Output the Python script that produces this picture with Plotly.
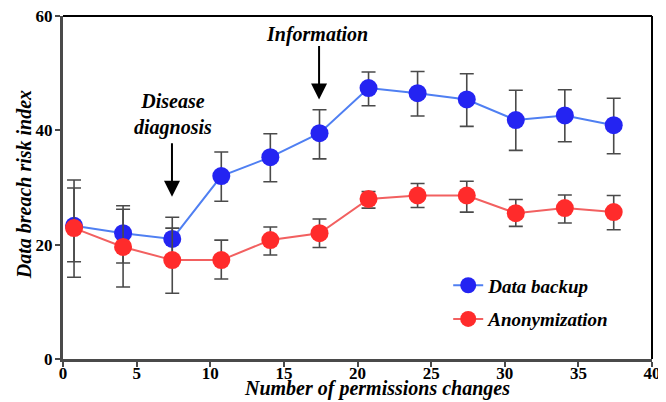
import plotly.graph_objects as go

# ---- data ----
x_changes = [0.75, 4.08, 7.42, 10.75, 14.08, 17.42, 20.75, 24.08, 27.42, 30.75, 34.08, 37.4]

backup = [23.3, 22.0, 21.0, 32.0, 35.3, 39.5, 47.4, 46.5, 45.4, 41.8, 42.6, 40.9]
backup_plus = [8.0, 4.8, 3.8, 4.2, 4.1, 4.1, 2.8, 3.8, 4.5, 5.2, 4.5, 4.7]
backup_minus = [6.3, 5.2, 3.8, 4.4, 4.3, 4.5, 3.1, 4.0, 4.7, 5.3, 4.6, 5.0]

anonym = [22.9, 19.6, 17.3, 17.3, 20.8, 22.0, 28.0, 28.6, 28.6, 25.5, 26.4, 25.7]
anonym_plus = [7.0, 6.6, 5.6, 3.5, 2.3, 2.5, 1.3, 2.1, 2.5, 2.4, 2.3, 2.9]
anonym_minus = [8.6, 7.0, 5.8, 3.3, 2.6, 2.5, 1.6, 2.1, 2.9, 2.3, 2.6, 3.1]

series_names = ["Data backup", "Anonymization"]
x_ticks = [0, 5, 10, 15, 20, 25, 30, 35, 40]
y_ticks = [0, 20, 40, 60]

FONT = "Liberation Serif"
ERR_COLOR = "#4a4a4a"

fig = go.Figure()

fig.add_trace(go.Scatter(
    x=x_changes, y=backup, name=series_names[0], mode="lines+markers",
    legendgroup="a",
    line=dict(color="#4f7ff2", width=2),
    marker=dict(color="#2424f2", size=18),
    error_y=dict(type="data", symmetric=False, array=backup_plus, arrayminus=backup_minus,
                 color=ERR_COLOR, thickness=1.6, width=7),
))
fig.add_trace(go.Scatter(
    x=x_changes, y=anonym, name=series_names[1], mode="lines+markers",
    legendgroup="b",
    line=dict(color="#f26060", width=2),
    marker=dict(color="#ff2b2b", size=18),
    error_y=dict(type="data", symmetric=False, array=anonym_plus, arrayminus=anonym_minus,
                 color=ERR_COLOR, thickness=1.6, width=7),
))

axis_common = dict(
    showgrid=False, zeroline=False, showline=True, linecolor="#4a4a4a", linewidth=3,
    ticks="outside", ticklen=5, tickwidth=2, tickcolor="#4a4a4a", automargin=False,
    ticklabeloverflow="allow",
    tickfont=dict(family=FONT, size=17, color="black", weight="bold"),
)

fig.update_xaxes(range=[0, 40], tickvals=x_ticks, ticklabelstandoff=-8, **axis_common)
fig.update_yaxes(range=[0, 60], tickvals=y_ticks, ticklabelstandoff=-1, **axis_common)

title_font = dict(family=FONT, size=20, color="black", weight="bold", style="italic")

annotations = [
    dict(text="Number of permissions changes", xref="paper", yref="paper",
         x=0.533, y=-0.085, xanchor="center", yanchor="middle", showarrow=False,
         font=title_font),
    dict(text="Data breach risk index", xref="paper", yref="paper",
         x=-0.066, y=0.507, xanchor="center", yanchor="middle", showarrow=False,
         textangle=-90, font=title_font),
    dict(text="Information", x=17.25, y=56.7, xref="x", yref="y", showarrow=False,
         font=title_font),
    dict(text="Disease<br>diagnosis", x=7.45, y=42.7, xref="x", yref="y", showarrow=False,
         font=title_font),
    dict(text="", x=17.39, y=45.4, ax=17.39, ay=55.0, xref="x", yref="y",
         axref="x", ayref="y", showarrow=True, arrowhead=2, arrowsize=1.6,
         arrowwidth=2, arrowcolor="black"),
    dict(text="", x=7.4, y=28.4, ax=7.4, ay=38.0, xref="x", yref="y",
         axref="x", ayref="y", showarrow=True, arrowhead=2, arrowsize=1.6,
         arrowwidth=2, arrowcolor="black"),
]

shapes = [
    dict(type="line", xref="paper", yref="paper", x0=0, x1=1, y0=1, y1=1,
         line=dict(color="black", width=2)),
    dict(type="line", xref="paper", yref="paper", x0=1, x1=1, y0=0, y1=1,
         line=dict(color="black", width=2)),
]

# page body has an 8px margin, so the figure is sized/offset to compensate
fig.update_layout(
    width=658, height=394,
    margin=dict(l=55, r=14, t=8, b=43),
    paper_bgcolor="white", plot_bgcolor="white",
    annotations=annotations, shapes=shapes,
    legend=dict(x=0.654, y=0.27, xanchor="left", yanchor="top",
                font=dict(family=FONT, size=19, color="black", weight="bold", style="italic"),
                bgcolor="rgba(0,0,0,0)", traceorder="grouped", tracegroupgap=6,
                itemsizing="trace"),
    showlegend=True,
)

fig.write_html("out.html")
